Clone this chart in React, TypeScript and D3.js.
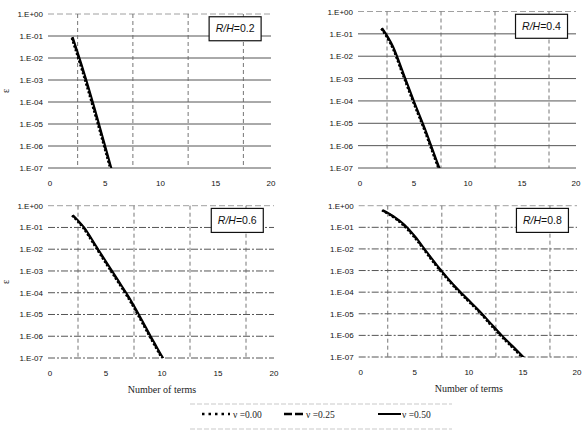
import * as d3 from "d3";

// ε vs number of terms, four R/H ratios, three Poisson ratios each
const terms1 = [2, 3, 4, 5, 6];
const eps1_nu00 = [8.0e-2, 2.1e-3, 4.2e-5, 7.0e-7, 1.1e-8];
const eps1_nu25 = [8.5e-2, 2.3e-3, 4.6e-5, 7.5e-7, 1.2e-8];
const eps1_nu50 = [9.0e-2, 2.5e-3, 5.0e-5, 8.0e-7, 1.3e-8];

const terms2 = [2, 3, 4, 5, 6, 7, 8];
const eps2_nu00 = [0.17, 2.6e-2, 1.45e-3, 7.8e-5, 4.8e-6, 2.3e-7, 1.3e-8];
const eps2_nu25 = [0.175, 2.7e-2, 1.5e-3, 8.2e-5, 5.0e-6, 2.4e-7, 1.35e-8];
const eps2_nu50 = [0.18, 2.8e-2, 1.6e-3, 8.5e-5, 5.2e-6, 2.5e-7, 1.4e-8];

const terms3 = [2, 3, 4, 5, 6, 7, 8, 9, 10, 11];
const eps3_nu00 = [0.35, 9.4e-2, 1.5e-2, 2.3e-3, 3.7e-4, 5.8e-5, 7.3e-6, 8.2e-7, 1.0e-7, 1.2e-8];
const eps3_nu25 = [0.36, 9.7e-2, 1.55e-2, 2.4e-3, 3.85e-4, 6.0e-5, 7.6e-6, 8.6e-7, 1.05e-7, 1.25e-8];
const eps3_nu50 = [0.37, 0.1, 1.6e-2, 2.5e-3, 4.0e-4, 6.3e-5, 7.9e-6, 8.9e-7, 1.1e-7, 1.3e-8];

const terms4 = [2, 3, 4, 5, 6, 7, 8, 9, 10, 11, 12, 13, 14, 15, 16];
const eps4_nu00 = [0.6, 0.3, 0.12, 3.4e-2, 7.5e-3, 1.65e-3, 4.2e-4, 1.17e-4, 3.7e-5, 1.17e-5, 3.2e-6, 9.2e-7, 2.9e-7, 9.2e-8, 2.9e-8];
const eps4_nu25 = [0.61, 0.31, 0.125, 3.55e-2, 7.8e-3, 1.72e-3, 4.35e-4, 1.22e-4, 3.85e-5, 1.22e-5, 3.35e-6, 9.6e-7, 3.05e-7, 9.6e-8, 3.05e-8];
const eps4_nu50 = [0.63, 0.32, 0.13, 3.7e-2, 8.0e-3, 1.8e-3, 4.5e-4, 1.26e-4, 4.0e-5, 1.26e-5, 3.5e-6, 1.0e-6, 3.2e-7, 1.0e-7, 3.2e-8];

const ratioLabels = ["0.2", "0.4", "0.6", "0.8"];
const yTicks = [1, 1e-1, 1e-2, 1e-3, 1e-4, 1e-5, 1e-6, 1e-7];
const yTickLabels = ["1.E+00", "1.E-01", "1.E-02", "1.E-03", "1.E-04", "1.E-05", "1.E-06", "1.E-07"];
const xTicks = [0, 5, 10, 15, 20];
const xGrid = [2.5, 7.5, 12.5, 17.5];
const nuLabels = ["ν =0.00", "ν =0.25", "ν =0.50"];

const series = [
  { terms: terms1, eps: [eps1_nu00, eps1_nu25, eps1_nu50] },
  { terms: terms2, eps: [eps2_nu00, eps2_nu25, eps2_nu50] },
  { terms: terms3, eps: [eps3_nu00, eps3_nu25, eps3_nu50] },
  { terms: terms4, eps: [eps4_nu00, eps4_nu25, eps4_nu50] },
];

// panel frames (pixel boxes of each plot area)
const frames = [
  { x0: 50, x1: 271, y0: 14, y1: 168, left: true, bottom: false, hDash: "none" },
  { x0: 360, x1: 576, y0: 11.5, y1: 168, left: false, bottom: false, hDash: "none" },
  { x0: 50, x1: 274, y0: 205.7, y1: 358, left: true, bottom: true, hDash: "7,2,2,2" },
  { x0: 360.7, x1: 577, y0: 205.7, y1: 357, left: false, bottom: true, hDash: "7,2,2,2" },
];

const dashes = ["2,2", "6,2", "none"];
const sans = "'Liberation Sans', Arial, sans-serif";
const serif = "'Liberation Serif', 'Times New Roman', serif";

function Panel({ idx }: { idx: number }) {
  const f = frames[idx];
  const s = series[idx];
  const x = d3.scaleLinear().domain([0, 20]).range([f.x0, f.x1]);
  const y = d3.scaleLog().domain([1e-7, 1]).range([f.y1, f.y0]);
  const line = d3
    .line<number>()
    .x((_, i) => x(s.terms[i]))
    .y((d) => y(d))
    .curve(d3.curveMonotoneX);
  const clipId = `clip${idx}`;
  const bx = x(14.4);
  const by = y(0.75);

  return (
    <g>
      <defs>
        <clipPath id={clipId}>
          <rect x={f.x0} y={f.y0 - 3} width={f.x1 - f.x0} height={f.y1 - f.y0 + 3} />
        </clipPath>
      </defs>
      {/* horizontal grid */}
      {yTicks.map((t, i) => (
        <line
          key={`h${i}`}
          x1={f.x0 - 2}
          x2={f.x1}
          y1={y(t)}
          y2={y(t)}
          stroke={i === 0 ? "#888" : "#555"}
          strokeWidth={i === 0 ? 0.8 : 1}
          strokeDasharray={i === 0 ? "6,3" : f.hDash}
        />
      ))}
      {/* vertical dashed grid */}
      {xGrid.map((g) => (
        <line
          key={`v${g}`}
          x1={x(g)}
          x2={x(g)}
          y1={f.y0}
          y2={f.y1}
          stroke="#666"
          strokeWidth={0.9}
          strokeDasharray="4,3"
        />
      ))}
      {/* y labels */}
      {yTicks.map((t, i) => (
        <text
          key={`yl${i}`}
          x={f.x0 - 7}
          y={y(t) + 3}
          textAnchor="end"
          fontFamily={sans}
          fontSize={8}
          fill="#111"
        >
          {yTickLabels[i]}
        </text>
      ))}
      {/* x labels */}
      {xTicks.map((t) => (
        <text
          key={`xl${t}`}
          x={x(t)}
          y={f.y1 + 18}
          textAnchor="middle"
          fontFamily={sans}
          fontSize={8}
          fill="#111"
        >
          {t}
        </text>
      ))}
      {/* curves */}
      <g clipPath={`url(#${clipId})`}>
        {s.eps.map((e, k) => (
          <path
            key={`s${k}`}
            d={line(e) || ""}
            fill="none"
            stroke="#000"
            strokeWidth={2}
            strokeDasharray={dashes[k]}
            transform={`translate(${(k - 1) * 0.5},0)`}
          />
        ))}
      </g>
      {/* R/H box */}
      <rect x={bx} y={by} width={52} height={24} fill="#fff" stroke="#111" strokeWidth={1.2} />
      <text
        x={bx + 26}
        y={by + 15.5}
        textAnchor="middle"
        fontFamily={sans}
        fontSize={10.5}
        fill="#111"
      >
        <tspan fontStyle="italic">R/H</tspan>=
        {ratioLabels[idx]}
      </text>
      {f.left && (
        <text
          transform={`translate(9,${(f.y0 + f.y1) / 2}) rotate(-90)`}
          textAnchor="middle"
          fontFamily={serif}
          fontSize={10}
          fill="#222"
        >
          ε
        </text>
      )}
      {f.bottom && (
        <text
          x={(f.x0 + f.x1) / 2}
          y={f.y1 + 35}
          textAnchor="middle"
          fontFamily={serif}
          fontSize={10}
          fill="#222"
        >
          Number of terms
        </text>
      )}
    </g>
  );
}

export default function App() {
  const legendY = 414;
  const legendItems = [
    { x1: 202, x2: 230, tx: 233, dash: "2.5,4", w: 2.5 },
    { x1: 284, x2: 303, tx: 306, dash: "8,3", w: 2.5 },
    { x1: 378, x2: 401, tx: 402, dash: "none", w: 2 },
  ];
  return (
    <svg width={587} height={433} style={{ position: "absolute", left: 0, top: 0, background: "#fff" }}>
      {[0, 1, 2, 3].map((i) => (
        <Panel key={i} idx={i} />
      ))}
      {/* legend */}
      <line x1={190} x2={452} y1={404} y2={404} stroke="#bbb" strokeWidth={0.8} strokeDasharray="5,2" />
      <line x1={190} x2={452} y1={429} y2={429} stroke="#bbb" strokeWidth={0.8} strokeDasharray="5,2" />
      {legendItems.map((l, i) => (
        <g key={i}>
          <line x1={l.x1} x2={l.x2} y1={legendY} y2={legendY} stroke="#000" strokeWidth={l.w} strokeDasharray={l.dash} />
          <text x={l.tx} y={legendY + 3.5} fontFamily={serif} fontSize={9.5} fill="#222">
            {nuLabels[i]}
          </text>
        </g>
      ))}
    </svg>
  );
}
